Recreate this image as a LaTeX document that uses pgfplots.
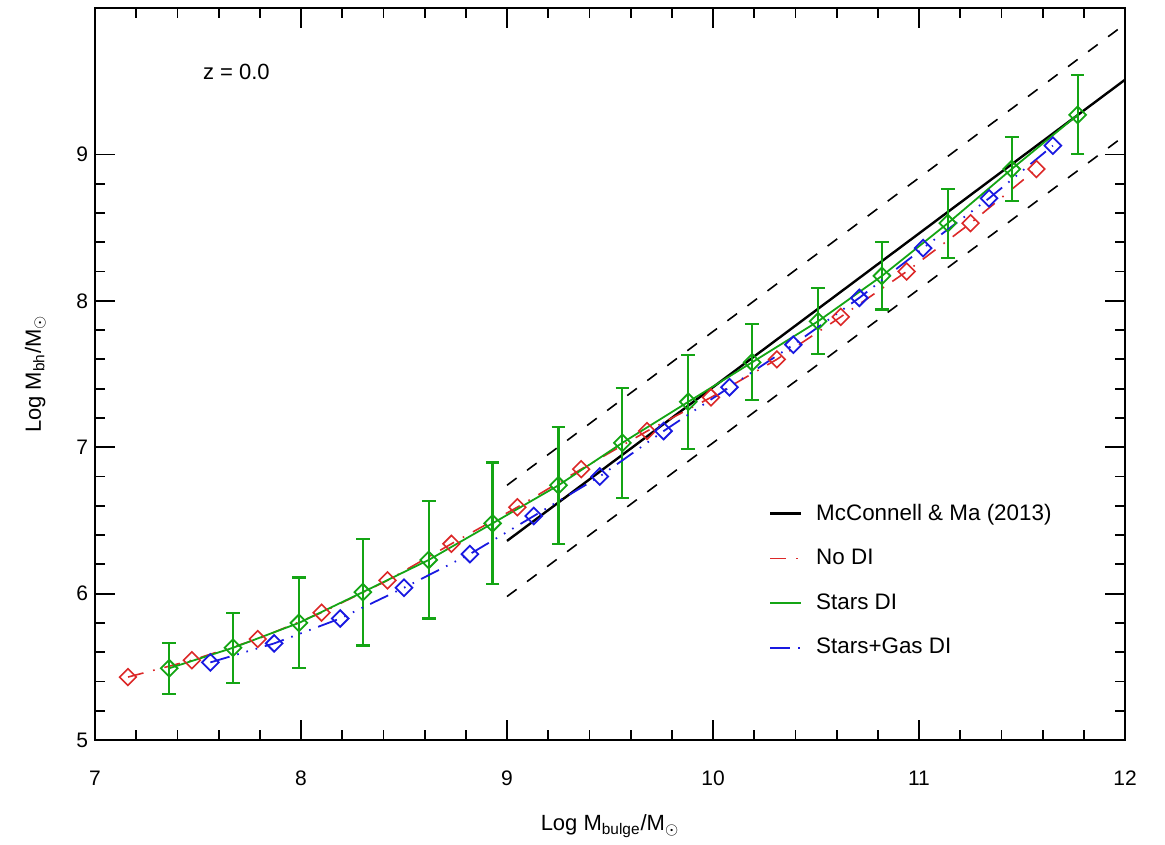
\documentclass[border=0pt]{standalone}
\usepackage{fontspec}
\setmainfont{Liberation Sans}
\usepackage{pgfplots}
\usepackage{pgfplotstable}
\pgfplotsset{compat=1.18}

\definecolor{diRed}{RGB}{220,40,40}
\definecolor{diGreen}{RGB}{20,165,20}
\definecolor{diBlue}{RGB}{25,25,225}

% No DI
\pgfplotstableread{
x y
7.16 5.43
7.47 5.545
7.79 5.69
8.10 5.87
8.42 6.09
8.73 6.34
9.05 6.59
9.36 6.85
9.68 7.11
9.99 7.34
10.31 7.60
10.62 7.89
10.94 8.20
11.25 8.53
11.57 8.90
}\nodi

% Stars DI (with 1-sigma scatter)
\pgfplotstableread{
x y e
7.36 5.49 0.175
7.67 5.63 0.24
7.99 5.80 0.31
8.30 6.01 0.365
8.62 6.23 0.40
8.93 6.48 0.415
9.25 6.74 0.40
9.56 7.03 0.375
9.88 7.31 0.32
10.19 7.58 0.26
10.51 7.86 0.225
10.82 8.17 0.23
11.14 8.53 0.235
11.45 8.90 0.22
11.77 9.27 0.27
}\starsdi

% Stars+Gas DI
\pgfplotstableread{
x y
7.56 5.53
7.87 5.66
8.19 5.83
8.50 6.04
8.82 6.27
9.13 6.53
9.45 6.80
9.76 7.11
10.08 7.41
10.39 7.70
10.71 8.02
11.02 8.36
11.34 8.70
11.65 9.06
}\gasdi

\pgfplotsset{
  redline/.style={diRed, line width=0.8pt, dash pattern=on 8pt off 5pt on 0.8pt off 5pt},
  blueline/.style={diBlue, line width=0.9pt,
    dash pattern=on 10pt off 4pt on 0.8pt off 4pt on 0.8pt off 4pt on 0.8pt off 4pt},
  dmark/.style={mark=square, mark size=2.95pt, mark options={rotate=45, solid}},
}

\begin{document}
\begin{tikzpicture}
\begin{axis}[
  scale only axis,
  width=515pt, height=366pt,
  xmin=7, xmax=12, ymin=5, ymax=10,
  xtick={7,...,12}, ytick={5,...,9},
  minor x tick num=4, minor y tick num=4,
  tick align=inside,
  major tick length=10pt, minor tick length=5pt,
  every tick/.style={black, line width=0.9pt},
  axis line style={line width=1pt},
  /pgf/number format/assume math mode=true,
  tick label style={font=\fontsize{10.5}{12}\selectfont},
  xticklabel style={yshift=-12pt},
  label style={font=\fontsize{11}{13}\selectfont},
  xlabel={Log M\textsubscript{bulge}/M\textsubscript{$\odot$}},
  ylabel={Log M\textsubscript{bh}/M\textsubscript{$\odot$}},
  xlabel style={at={(axis description cs:0.5,-0.118)}, anchor=center},
  ylabel style={at={(axis description cs:-0.058,0.5)}, anchor=center},
  legend cell align=left,
  legend style={at={(axis description cs:0.648,0.334)}, anchor=north west,
    draw=none, fill=none, font=\fontsize{11.2}{13}\selectfont, row sep=9pt,
    /tikz/every odd column/.append style={column sep=5pt}},
  legend image code/.code={\draw[#1] (0pt,0pt) -- (15.5pt,0pt);},
]
\addplot[black, line width=0.8pt, dash pattern=on 6pt off 6.5pt, forget plot]
  coordinates {(9,6.74) (12,9.89)};
\addplot[black, line width=0.8pt, dash pattern=on 6pt off 6.5pt, forget plot]
  coordinates {(9,5.98) (12,9.13)};
\addplot[black, line width=1.2pt, forget plot] coordinates {(9,6.36) (12,9.51)};
\addplot[redline, dmark, forget plot] table[x=x, y=y] {\nodi};
\addplot[diGreen, line width=0.9pt, dmark, forget plot,
  error bars/.cd, y dir=both, y explicit,
  error bar style={line width=1.1pt, diGreen},
  error mark options={rotate=90, mark size=3.4pt, line width=1.1pt, diGreen}]
  table[x=x, y=y, y error=e] {\starsdi};
\addplot[blueline, dmark, forget plot] table[x=x, y=y] {\gasdi};

\addlegendimage{black, line width=1.2pt}
\addlegendentry{McConnell \& Ma (2013)}
\addlegendimage{redline}
\addlegendentry{No DI}
\addlegendimage{diGreen, line width=0.9pt}
\addlegendentry{Stars DI}
\addlegendimage{blueline, line width=1pt}
\addlegendentry{Stars+Gas DI}

\node[anchor=west, font=\fontsize{11}{13}\selectfont] at (axis cs:7.49,9.56) {z = 0.0};
\end{axis}
\path ([shift={(-47.5pt,-52pt)}]current axis.south west)
  rectangle ([shift={(20pt,4pt)}]current axis.north east);
\end{tikzpicture}
\end{document}
